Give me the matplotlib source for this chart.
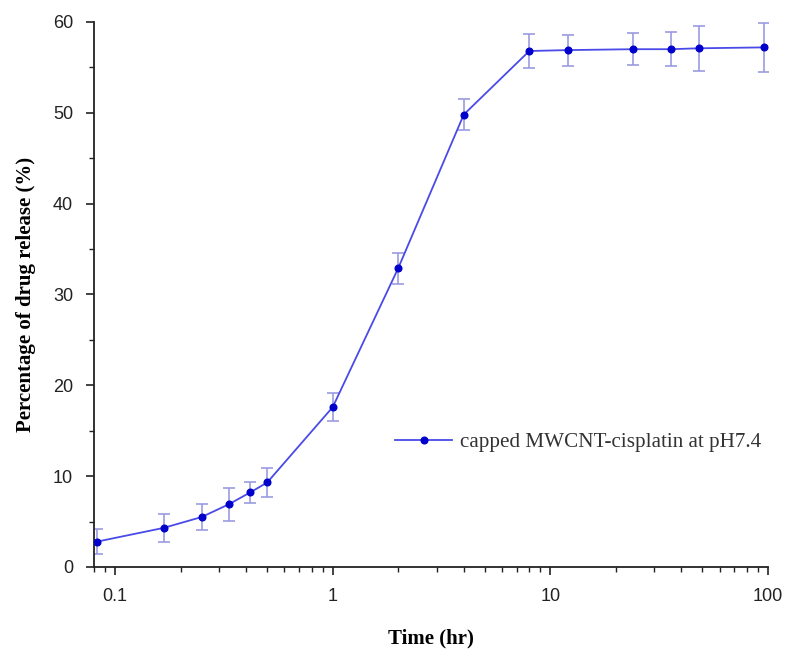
import matplotlib
matplotlib.use('Agg')
import matplotlib.pyplot as plt
from matplotlib.ticker import MultipleLocator, LogLocator, FixedFormatter, FixedLocator

# Release time points (hr) and cumulative release (%)
time_hr = [0.083, 0.167, 0.25, 0.333, 0.417, 0.5, 1, 2, 4, 8, 12, 24, 36, 48, 96]
release = [2.8, 4.3, 5.5, 6.9, 8.2, 9.3, 17.6, 32.9, 49.8, 56.8, 56.9, 57.0, 57.0, 57.1, 57.2]
err = [1.4, 1.5, 1.45, 1.8, 1.2, 1.6, 1.5, 1.7, 1.7, 1.9, 1.7, 1.75, 1.9, 2.5, 2.7]

series_label = 'capped MWCNT-cisplatin at pH7.4'
x_ticks = [0.1, 1, 10, 100]
x_tick_labels = ['0.1', '1', '10', '100']

fig = plt.figure(figsize=(8, 6.65), dpi=100)
ax = fig.add_axes([0.1175, 0.1474, 0.8425, 0.8196])

# error bars in a lighter lavender, line + markers in blue
ax.errorbar(time_hr, release, yerr=err, fmt='none', ecolor='#9b9be0',
            elinewidth=1.2, capsize=4, capthick=1.2, zorder=2)
ax.plot(time_hr, release, '-', color='#4a4ae8', lw=1.3, marker='o',
        markersize=4.8, markerfacecolor='#0000cc', markeredgecolor='#0000cc',
        label=series_label, zorder=3)

ax.set_xscale('log')
ax.set_xlim(0.08, 100)
ax.set_ylim(0, 60)

ax.xaxis.set_major_locator(FixedLocator(x_ticks))
ax.xaxis.set_major_formatter(FixedFormatter(x_tick_labels))
ax.xaxis.set_minor_locator(LogLocator(base=10, subs=range(2, 10)))
ax.yaxis.set_major_locator(MultipleLocator(10))
ax.yaxis.set_minor_locator(MultipleLocator(5))

for side in ['top', 'right']:
    ax.spines[side].set_visible(False)
for side in ['left', 'bottom']:
    ax.spines[side].set_linewidth(1.3)
    ax.spines[side].set_color('#222222')

ax.tick_params(which='major', direction='out', length=6, width=1.2,
               labelsize=13, colors='#222222', pad=9)
ax.tick_params(which='minor', direction='out', length=3.5, width=1.0,
               colors='#222222')
for lbl in ax.get_xticklabels() + ax.get_yticklabels():
    lbl.set_family('Liberation Sans')

label_font = dict(family='Liberation Serif', fontweight='bold', fontsize=15)
ax.set_xlabel('Time (hr)', labelpad=17, **label_font)
ax.set_ylabel('Percentage of drug release (%)', labelpad=12, **label_font)

leg = ax.legend(loc='center left', bbox_to_anchor=(0.4466, 0.229), frameon=False,
                prop={'family': 'Liberation Serif', 'size': 15.2}, handlelength=2.7,
                handletextpad=0.4, borderpad=0, borderaxespad=0)
for t in leg.get_texts():
    t.set_color('#333333')

fig.savefig('out.png', dpi=100)
